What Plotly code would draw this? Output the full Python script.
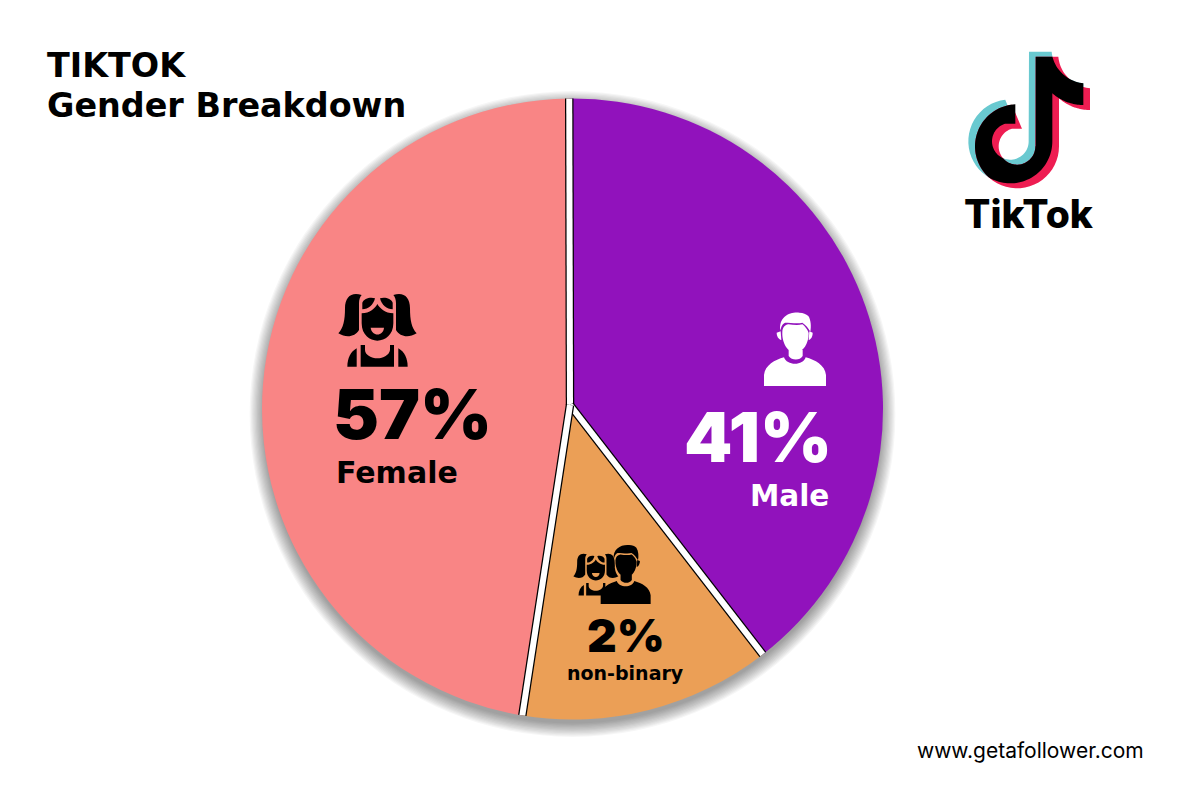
import math
import re
import plotly.graph_objects as go

# ---- data ----
categories = ["Male", "non-binary", "Female"]
percent_labels = ["41%", "2%", "57%"]      # printed on the chart
drawn_shares = [39.67, 13.08, 47.25]       # slice sizes as drawn in the picture
slice_colors = ["#9112BC", "#EB9F56", "#F98585"]
title_lines = ["TIKTOK", "Gender Breakdown"]
site_text = "www.getafollower.com"
logo_text = "TikTok"

PAGE_MARGIN = 8
W, H = 1200 - PAGE_MARGIN, 800 - PAGE_MARGIN
CX, CY, R = 572.5, 409, 310.5
APEX_X, APEX_Y = 570, 405
ROT = -0.6
FONT = "Inter"
WIDE = "DejaVu Sans"


def px(x):
    return (x - PAGE_MARGIN) / W


def py(y):
    return 1 - (y - PAGE_MARGIN) / H


NUM = re.compile(r"-?\d+\.?\d*")


def tf(path, ox, oy, sx, sy=None):
    sy = sx if sy is None else sy
    count = {"i": 0}

    def rep(m):
        v = float(m.group())
        i = count["i"]
        count["i"] += 1
        if i % 2 == 0:
            return f"{px(ox + v * sx):.5f}"
        return f"{py(oy + v * sy):.5f}"

    return NUM.sub(rep, path)


shapes = []


def add_path(path, color, ox, oy, sx, sy=None, line=0, linecolor=None):
    shapes.append(dict(type="path", xref="paper", yref="paper",
                       path=tf(path, ox, oy, sx, sy), fillcolor=color,
                       line=dict(width=line, color=linecolor or color), layer="above"))


# soft drop shadow below the pie
for k in range(12):
    r = R + 1.2 * (k + 1) - 2
    cy = CY + 5
    shapes.append(dict(type="circle", xref="paper", yref="paper",
                       x0=px(CX - r), x1=px(CX + r), y0=py(cy + r), y1=py(cy - r),
                       fillcolor="rgba(0,0,0,0.035)", line=dict(width=0), layer="below"))

# separators follow the slice boundaries
total = sum(drawn_shares)
acc = 0.0
for s in drawn_shares:
    ang_ = math.radians(ROT + 360 * acc / total)
    ex, ey = CX + R * math.sin(ang_), CY - R * math.cos(ang_)
    for width, col in ((8.5, "#000000"), (6, "#FFFFFF")):
        shapes.append(dict(type="line", xref="paper", yref="paper",
                           x0=px(APEX_X), y0=py(APEX_Y), x1=px(ex), y1=py(ey),
                           line=dict(color=col, width=width), layer="above"))
    acc += s


# ---- TikTok logo (decoration), built in zoom-space coordinates ----
def arc(cx, cy, r, a0, a1, n=40):
    pts = []
    for i in range(n + 1):
        a = math.radians(a0 + (a1 - a0) * i / n)
        pts.append((cx + r * math.cos(a), cy + r * math.sin(a)))
    return pts


def ang(cx, cy, x, y):
    return math.degrees(math.atan2(y - cy, x - cx))


def poly(pts):
    return "M" + " L".join(f"{x:.2f},{y:.2f}" for x, y in pts) + " Z"


def bez(p0, p1, p2, p3, n=24):
    out = []
    for i in range(n + 1):
        t = i / n
        u = 1 - t
        out.append((u**3 * p0[0] + 3 * u * u * t * p1[0] + 3 * u * t * t * p2[0] + t**3 * p3[0],
                    u**3 * p0[1] + 3 * u * u * t * p1[1] + 3 * u * t * t * p2[1] + t**3 * p3[1]))
    return out


def note(dx, dy):
    c = (211 + dx, 334 + dy)
    pts = [(267 + dx, 65 + dy), (335 + dx, 65 + dy)]
    pts += bez((335 + dx, 65 + dy), (340 + dx, 120 + dy), (385 + dx, 155 + dy), (430 + dx, 160 + dy))
    pts += [(430 + dx, 225 + dy)]
    pts += bez((430 + dx, 225 + dy), (395 + dx, 225 + dy), (362 + dx, 212 + dy), (337 + dx, 190 + dy))
    pts += [(337 + dx, 334 + dy)]
    pts += arc(c[0], c[1], 126, 0, 263)
    pts += [(226 + dx, 281 + dy)]
    pts += arc(c[0], c[1], 55, -106, -360, 50)
    return pts


def black_note():
    cyan_c, red_c = (211, 334), (231, 349)
    pts = [(287, 80), (337, 80)]
    pts += bez((335, 65), (340, 120), (385, 155), (430, 160))[3:]
    pts += [(430, 225)]
    pts += bez((430, 225), (395, 225), (362, 212), (337, 190))
    pts += [(337, 334)]
    pts += arc(*cyan_c, 126, 0, ang(*cyan_c, 146, 442))
    pts += arc(*red_c, 126, ang(*red_c, 146, 442), ang(*red_c, 226, 223) + (360 if ang(*red_c, 226, 223) < 0 else 0))
    pts += [(226, 281)]
    pts += arc(*cyan_c, 55, -106, -360 + ang(*cyan_c, 189, 384.4))
    pts += arc(*red_c, 55, ang(*red_c, 189, 384.4), 0)
    pts += [(287, 349)]
    return pts


LOGO = (940, 30, 1 / 3)
add_path(poly(note(0, 0)), "#69C9D0", *LOGO)
add_path(poly(note(20, 15)), "#EE1D52", *LOGO)
add_path(poly(black_note()), "#000000", *LOGO)

# ---- pictograms (decoration), local coordinates in 1/3 px ----
F_LEFT_TAIL = "M125,45 C95,35 75,50 75,85 C75,120 70,145 55,160 C80,175 105,170 117,150 L117,70 C117,60 120,50 125,45 Z"
F_RIGHT_TAIL = "M220,45 C250,35 270,50 270,85 C270,120 275,145 290,160 C265,175 240,170 228,150 L228,70 C228,60 225,50 220,45 Z"
F_BANG_L = "M127,88 L127,68 C132,56 150,50 165,55 C160,75 145,88 127,88 Z"
F_BANG_R = "M218,88 L218,68 C213,56 195,50 180,55 C185,75 200,88 218,88 Z"
F_FACE = "M125,100 C150,100 165,85 172,72 C180,85 195,100 220,100 L220,130 C220,165 195,182 172,182 C150,182 125,165 125,130 Z"
F_MOUTH = "M152,143 L192,143 C190,170 155,170 152,143 Z"
F_BODY = "M122,195 L135,195 L135,210 C135,225 155,235 172,235 C190,235 208,225 210,210 L210,195 L222,195 L222,260 L122,260 Z"
F_ARM_L = "M110,205 L110,260 L82,260 C82,235 92,215 110,205 Z"
F_ARM_R = "M235,205 L235,260 L263,260 C263,235 253,215 235,205 Z"

M_HAIR = "M121,92 C115,50 150,35 178,38 C190,38 198,42 205,48 C213,60 214,80 211,95 C205,85 198,75 187,68 C175,72 150,68 135,68 C125,72 123,85 121,92 Z"
M_FACE = "M127,95 C128,82 135,75 145,73 C160,75 175,77 187,73 C195,78 205,92 206,100 C206,130 190,158 166,158 C145,158 125,130 127,95 Z"
M_NECK = "M146,150 L188,150 L188,168 C180,182 155,182 146,168 Z"
M_BODY = "M72,258 L72,225 C75,195 105,180 132,172 C140,198 190,198 197,172 C225,180 255,195 258,225 L258,258 Z"
M_EAR_L = "M110,98 L122,94 L124,120 C115,118 110,108 110,98 Z"
M_EAR_R = "M218,98 L208,94 L206,120 C214,118 218,108 218,98 Z"


def female(ox, oy, s, ink, bg):
    for p in (F_LEFT_TAIL, F_RIGHT_TAIL, F_BANG_L, F_BANG_R, F_FACE, F_BODY, F_ARM_L, F_ARM_R):
        add_path(p, ink, ox, oy, s)
    add_path(F_MOUTH, bg, ox, oy, s)


def male(ox, oy, s, ink):
    for p in (M_HAIR, M_FACE, M_NECK, M_BODY, M_EAR_L, M_EAR_R):
        add_path(p, ink, ox, oy, s)


female(320, 280, 1 / 3, "#000000", slice_colors[2])
male(740, 300, 1 / 3, "#FFFFFF")
# non-binary pair
female(560 + (40 - 55 * 0.575) / 3, 535 + (55 - 40 * 0.575) / 3, 0.575 / 3, "#000000", slice_colors[1])
male(560 + (122 - 72 * 0.806) / 3, 535 + (30 - 38 * 0.806) / 3, 0.806 / 3, "#000000")

# ---- text ----
annotations = []


def text(t, x, y, size, color="#000000", anchor="left", weight=800, family=FONT):
    annotations.append(dict(text=t, x=px(x), y=py(y), xref="paper", yref="paper",
                            xanchor=anchor, yanchor="middle", showarrow=False,
                            font=dict(family=family, size=size, color=color, weight=weight)))


text(title_lines[0], 45, 65, 33.4, weight=700, family=WIDE)
text(title_lines[1], 45, 105, 33.4, weight=700, family=WIDE)
text(percent_labels[2], 412, 414, 69, anchor="center", weight=900)
text(categories[2], 397, 472, 30, anchor="center", weight=700, family=WIDE)
text(percent_labels[0], 758, 437, 69, color="#FFFFFF", anchor="center", weight=900)
text(categories[0], 789, 496, 29.5, color="#FFFFFF", anchor="center", weight=700, family=WIDE)
text(percent_labels[1], 626, 635, 46, anchor="center", weight=900)
text(categories[1], 625, 673, 19, anchor="center", weight=700, family=WIDE)
text(logo_text, 1029, 213, 39, anchor="center")
text(site_text, 1146, 750, 21, anchor="right", weight=400)

fig = go.Figure(go.Pie(
    labels=categories,
    values=drawn_shares,
    sort=False,
    direction="clockwise",
    rotation=ROT,
    textinfo="none",
    hoverinfo="label",
    showlegend=False,
    marker=dict(colors=slice_colors, line=dict(width=0)),
    domain=dict(x=[px(CX - R), px(CX + R)], y=[py(CY + R), py(CY - R)]),
))
fig.update_layout(width=W, height=H, margin=dict(l=0, r=0, t=0, b=0),
                  paper_bgcolor="#FFFFFF", plot_bgcolor="#FFFFFF",
                  shapes=shapes, annotations=annotations, showlegend=False)
fig.write_html("out.html")
